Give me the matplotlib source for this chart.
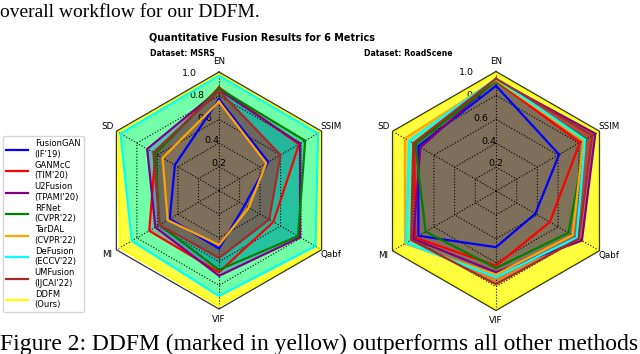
import numpy as np
import matplotlib.pyplot as plt

metrics = ['EN', 'SSIM', 'Qabf', 'VIF', 'MI', 'SD']
methods = ["FusionGAN\n(IF'19)", "GANMcC\n(TIM'20)", "U2Fusion\n(TPAMI'20)", "RFNet\n(CVPR'22)",
           "TarDAL\n(CVPR'22)", "DeFusion\n(ECCV'22)", "UMFusion\n(IJCAI'22)", "DDFM\n(Ours)"]
colors = ['blue', 'red', 'purple', 'green', 'orange', 'cyan', 'brown', 'yellow']

# values per metric: EN, SSIM, Qabf, VIF, MI, SD
msrs_fusiongan = [0.77, 0.48, 0.25, 0.49, 0.48, 0.43]
msrs_ganmcc    = [0.87, 0.78, 0.53, 0.69, 0.68, 0.62]
msrs_u2fusion  = [0.85, 0.79, 0.79, 0.72, 0.62, 0.70]
msrs_rfnet     = [0.86, 0.84, 0.77, 0.67, 0.58, 0.62]
msrs_tardal    = [0.75, 0.46, 0.29, 0.46, 0.50, 0.55]
msrs_defusion  = [0.97, 0.965, 0.94, 0.89, 0.85, 0.96]
msrs_umfusion  = [0.84, 0.60, 0.49, 0.57, 0.58, 0.64]
msrs_ddfm      = [0.99, 0.99, 0.99, 0.975, 0.965, 0.99]

road_fusiongan = [0.88, 0.61, 0.38, 0.47, 0.75, 0.75]
road_ganmcc    = [0.92, 0.81, 0.52, 0.625, 0.78, 0.79]
road_u2fusion  = [0.93, 0.96, 0.83, 0.68, 0.80, 0.73]
road_rfnet     = [0.92, 0.87, 0.70, 0.645, 0.68, 0.78]
road_tardal    = [0.93, 0.845, 0.74, 0.70, 0.88, 0.88]
road_defusion  = [0.94, 0.86, 0.78, 0.72, 0.87, 0.84]
road_umfusion  = [0.94, 0.93, 0.80, 0.78, 0.82, 0.80]
road_ddfm      = [0.99, 0.99, 0.99, 0.99, 0.98, 0.99]

msrs = [msrs_fusiongan, msrs_ganmcc, msrs_u2fusion, msrs_rfnet,
        msrs_tardal, msrs_defusion, msrs_umfusion, msrs_ddfm]
road = [road_fusiongan, road_ganmcc, road_u2fusion, road_rfnet,
        road_tardal, road_defusion, road_umfusion, road_ddfm]

rticks = [0.2, 0.4, 0.6, 0.8, 1.0]

theta = np.linspace(0, 2 * np.pi, len(metrics), endpoint=False)
closed = np.append(theta, theta[0])

fig = plt.figure(figsize=(6.4, 3.54), dpi=100)


def radar(rect, data, name, subx):
    ax = fig.add_axes(rect, projection='polar')
    ax.set_theta_offset(np.pi / 2)
    ax.set_theta_direction(-1)
    ax.set_ylim(0, 1.0)
    ax.spines['polar'].set_visible(False)
    ax.set_xticks(theta)
    ax.set_xticklabels(metrics, fontsize=6.3)
    ax.tick_params(axis='x', pad=-3)
    ax.set_yticks(rticks)
    ax.set_yticklabels([str(t) for t in rticks], fontsize=6.8)
    ax.set_rlabel_position(-18)
    ax.yaxis.grid(False)
    ax.xaxis.grid(True, color='k', ls=':', lw=0.8)
    # hexagon rings + frame
    for t in rticks[:-1]:
        ax.plot(closed, [t] * len(closed), color='k', ls=':', lw=0.8, zorder=2.4)
    ax.plot(closed, [1.0] * len(closed), color='#333333', lw=0.9, zorder=5, clip_on=False)
    # fills: ours first at the bottom
    ax.fill(closed, data[-1] + data[-1][:1], color=colors[-1], alpha=0.75, lw=0, zorder=1)
    for vals, c in zip(data[:-1], colors[:-1]):
        ax.fill(closed, vals + vals[:1], color=c, alpha=0.55, lw=0, zorder=1.1)
    lines = []
    for vals, c, m in zip(data, colors, methods):
        l, = ax.plot(closed, vals + vals[:1], color=c, lw=1.6, zorder=3, label=m)
        lines.append(l)
    fig.text(subx, 1 - 53 / 354, name, fontsize=5.6, fontweight='bold', ha='left', va='center')
    return lines


lines = radar([100.5 / 640, 1 - 309 / 354, 237 / 640, 237 / 354], msrs, 'Dataset: MSRS', 150 / 640)
radar([376.5 / 640, 1 - 310.5 / 354, 239 / 640, 239 / 354], road, 'Dataset: RoadScene', 364 / 640)

fig.text(262 / 640, 1 - 38 / 354, 'Quantitative Fusion Results for 6 Metrics',
         fontsize=7, fontweight='bold', ha='center', va='center')

fig.legend(handles=lines, loc='upper left', bbox_to_anchor=(3 / 640, 1 - 136 / 354),
           borderaxespad=0, fontsize=6, handlelength=2.6, labelspacing=0.25,
           borderpad=0.4, handletextpad=0.8)

fig.text(0.0, 1 - 17 / 354, 'overall workflow for our DDFM.', fontsize=14,
         family='Liberation Serif', ha='left', va='baseline')
fig.text(0.0, 1 - 350 / 354, 'Figure 2: DDFM (marked in yellow) outperforms all other methods',
         fontsize=17, family='Liberation Serif', ha='left', va='baseline')

fig.savefig('out.png', dpi=100)
